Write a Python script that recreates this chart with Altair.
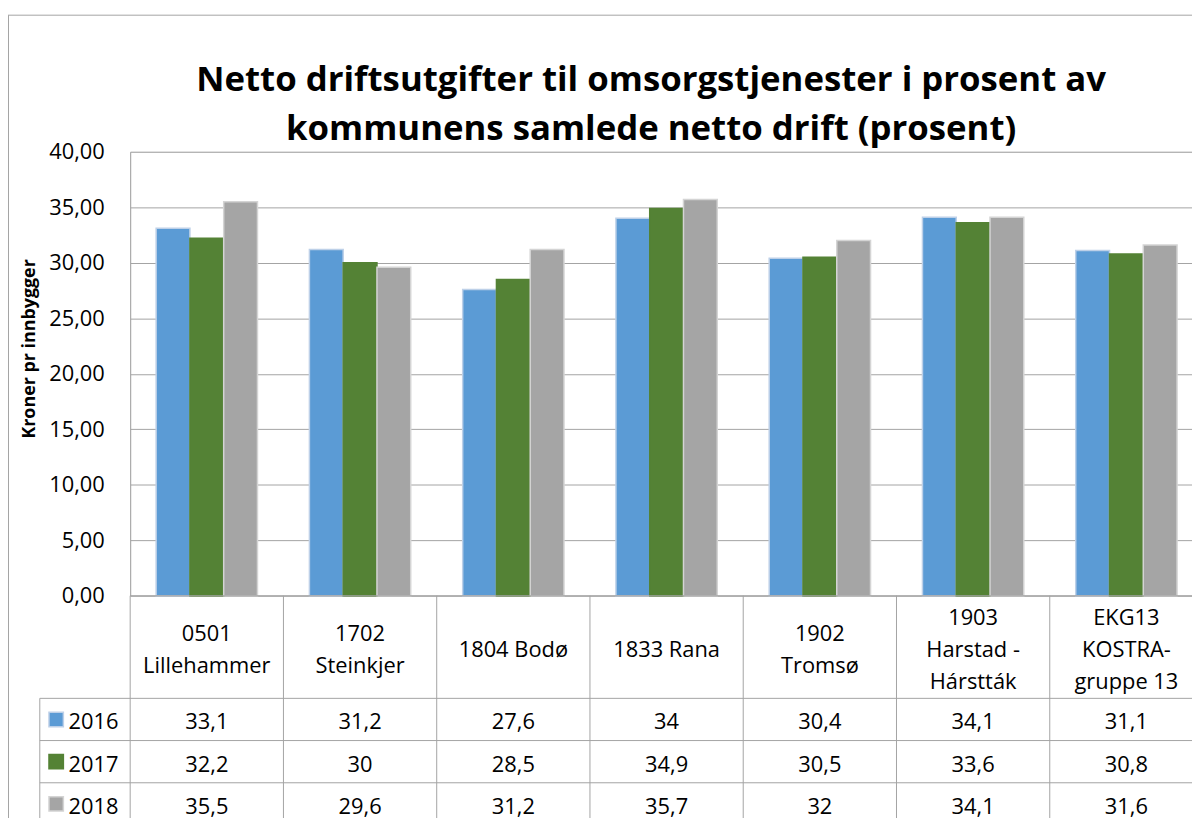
import altair as alt
import pandas as pd

# ---------------- data ----------------
categories = ["0501 Lillehammer", "1702 Steinkjer", "1804 Bodø", "1833 Rana",
              "1902 Tromsø", "1903 Harstad - Hárstták", "EKG13 KOSTRA-gruppe 13"]
header_labels = ["0501\nLillehammer", "1702\nSteinkjer", "1804 Bodø", "1833 Rana",
                 "1902\nTromsø", "1903\nHarstad -\nHárstták", "EKG13\nKOSTRA-\ngruppe 13"]
years = ["2016", "2017", "2018"]
values_2016 = [33.1, 31.2, 27.6, 34, 30.4, 34.1, 31.1]
values_2017 = [32.2, 30, 28.5, 34.9, 30.5, 33.6, 30.8]
values_2018 = [35.5, 29.6, 31.2, 35.7, 32, 34.1, 31.6]
y_ticks = [0, 5, 10, 15, 20, 25, 30, 35, 40]
title_lines = ["Netto driftsutgifter til omsorgstjenester i prosent av",
               "kommunens samlede netto drift (prosent)"]
y_title = "Kroner pr innbygger"

# ---------------- styles / layout ----------------
colors = ["#5B9BD5", "#548235", "#A5A5A5"]
stroke_colors = ["#BDD0E8", "#548235", "#D4D4D4"]
GRID = "#A3A3A3"
FONT = "Open Sans"
PLOT_W, PLOT_H = 1069, 447
COL_W = 154.3
ROW_PX = 42.5
HEADER_ROWS = 2.43
T_TOTAL = HEADER_ROWS + 3
LABEL_COL_X = -91
LINE_H = 32.5
TEXT_NUDGE = 0.07  # baseline-middle renders slightly high

series = {"2016": values_2016, "2017": values_2017, "2018": values_2018}
rows = []
for yi, yr in enumerate(years):
    for c, v in zip(categories, series[yr]):
        rows.append({"cat": c, "year": yr, "value": v,
                     "label": str(v).replace(".", ",") if v != int(v) else str(int(v)),
                     "ty": HEADER_ROWS + yi + 0.5 + TEXT_NUDGE})
df = pd.DataFrame(rows)
df_head = pd.DataFrame({
    "cat": categories, "label": header_labels,
    "ty": [HEADER_ROWS / 2 + TEXT_NUDGE - (lab.count("\n") * LINE_H / 2) / ROW_PX for lab in header_labels]})
df_years = pd.DataFrame({"year": years, "ty": [HEADER_ROWS + i + 0.5 for i in range(3)]})
df_years["tyt"] = df_years["ty"] + TEXT_NUDGE
df_hlines = pd.DataFrame({"ty": [HEADER_ROWS + i for i in range(4)]})
df_vlines = pd.DataFrame({"cat": categories, "t0": [0] * 7, "t1": [T_TOTAL] * 7})
one = pd.DataFrame({"a": [0]})

xscale = alt.Scale(domain=categories, range=[0, COL_W * 7], paddingInner=0, paddingOuter=0)
X = alt.X("cat:N", scale=xscale, axis=None, sort=categories)
color_scale = alt.Scale(domain=years, range=colors)
stroke_scale = alt.Scale(domain=years, range=stroke_colors)

# ---------------- bar part ----------------
bars = alt.Chart(df).mark_bar(strokeWidth=1.5).encode(
    x=X,
    xOffset=alt.XOffset("year:N", scale=alt.Scale(domain=years, paddingOuter=0.769, paddingInner=0)),
    y=alt.Y("value:Q",
            scale=alt.Scale(domain=[0, 40], nice=False, zero=True),
            axis=alt.Axis(values=y_ticks,
                          labelExpr="replace(format(datum.value, '.2f'), '.', ',')",
                          ticks=False, labelPadding=26, labelFont=FONT, labelFontSize=22,
                          labelColor="#000000", domainColor=GRID, gridColor=GRID, grid=True,
                          title=y_title, titleFont=FONT, titleFontSize=18, titleFontWeight="bold",
                          titleColor="#000000", titleAngle=270, titleX=-101, titleY=198,
                          titleAlign="center", titleBaseline="middle")),
    color=alt.Color("year:N", scale=color_scale, legend=None),
    stroke=alt.Stroke("year:N", scale=stroke_scale, legend=None),
)

frame_left = alt.Chart(one).mark_rule(color=GRID, strokeWidth=1).encode(
    x=alt.value(-122.5), y=alt.value(-137.5), y2=alt.value(PLOT_H + 400))
frame_top = alt.Chart(one).mark_rule(color=GRID, strokeWidth=1).encode(
    x=alt.value(-123), x2=alt.value(PLOT_W + 20), y=alt.value(-137.5))

top_group = alt.layer(bars, frame_left, frame_top)

# ---------------- table part ----------------
tscale = alt.Scale(domain=[0, T_TOTAL], range=[PLOT_H, PLOT_H + T_TOTAL * ROW_PX], nice=False, zero=False)
TY = lambda f: alt.Y(f, scale=tscale, axis=None)

head_text = alt.Chart(df_head).mark_text(
    font=FONT, fontSize=22, lineBreak="\n", lineHeight=LINE_H, baseline="middle", align="center",
    color="#000000").encode(x=X, y=TY("ty:Q"), text="label:N")

cell_text = alt.Chart(df).mark_text(
    font=FONT, fontSize=22, baseline="middle", align="center", color="#000000").encode(
    x=X, y=TY("ty:Q"), text="label:N")

hline_axis = alt.Chart(one).mark_rule(color=GRID).encode(
    x=alt.value(0), x2=alt.value(PLOT_W + 10), y=alt.YDatum(0, scale=tscale, axis=None))
hlines = alt.Chart(df_hlines).mark_rule(color=GRID).encode(
    x=alt.value(LABEL_COL_X), x2=alt.value(PLOT_W + 10), y=TY("ty:Q"))
vlines = alt.Chart(df_vlines).mark_rule(color=GRID).encode(
    x=alt.X("cat:N", scale=xscale, axis=None, sort=categories, bandPosition=0),
    y=TY("t0:Q"), y2="t1:Q")
vline_label = alt.Chart(one).mark_rule(color=GRID).encode(
    x=alt.value(LABEL_COL_X), y=alt.YDatum(HEADER_ROWS, scale=tscale, axis=None),
    y2=alt.Y2Datum(T_TOTAL))

keys = alt.Chart(df_years).mark_square(size=210, opacity=1, strokeWidth=1.5).encode(
    x=alt.value(-74.5), y=TY("ty:Q"),
    color=alt.Color("year:N", scale=color_scale, legend=None),
    stroke=alt.Stroke("year:N", scale=stroke_scale, legend=None))
key_text = alt.Chart(df_years).mark_text(
    font=FONT, fontSize=22, baseline="middle", align="left", color="#000000").encode(
    x=alt.value(-62), y=TY("tyt:Q"), text="year:N")

table_group = alt.layer(hline_axis, hlines, vlines, vline_label, head_text, cell_text, keys, key_text)

chart = alt.layer(top_group, table_group).resolve_scale(y="independent").properties(
    width=PLOT_W, height=PLOT_H,
    padding={"left": 123, "top": 142, "right": 0, "bottom": 221},
    autosize=alt.AutoSizeParams(type="none"),
    title=alt.TitleParams(text=title_lines, font=FONT, fontSize=35, fontWeight="bold",
                          color="#000000", anchor="middle", frame="group", dx=-10,
                          lineHeight=49, baseline="bottom", offset=-168),
).configure_view(stroke=None).configure(background="white")

chart.save("out.html", embed_options={"renderer": "svg", "actions": False})
